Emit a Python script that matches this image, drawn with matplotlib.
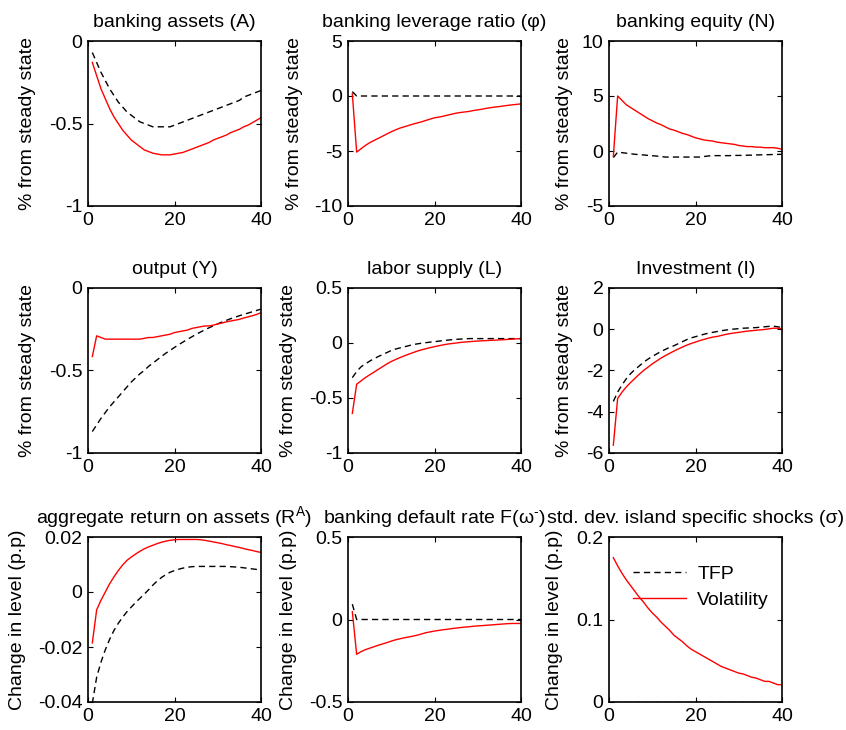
# -*- coding: utf-8 -*-
# impulse responses: TFP shock vs volatility shock, 3x3 panels
import matplotlib
matplotlib.use('Agg')
import matplotlib.pyplot as plt
from matplotlib.ticker import FuncFormatter

plt.rcParams['font.family'] = ['Liberation Sans', 'DejaVu Sans']
plt.rcParams['mathtext.fontset'] = 'custom'
plt.rcParams['mathtext.rm'] = 'Liberation Sans'
plt.rcParams['mathtext.it'] = 'Liberation Sans:italic'
plt.rcParams['axes.unicode_minus'] = False

#%% data, horizon 1..40
t = [1, 2, 3, 4, 5, 6, 7, 8, 9, 10, 11, 12, 13, 14, 15, 16, 17, 18, 19, 20,
     21, 22, 23, 24, 25, 26, 27, 28, 29, 30, 31, 32, 33, 34, 35, 36, 37, 38, 39, 40]

A_tfp = [-0.07, -0.13, -0.19, -0.24, -0.29, -0.33, -0.37, -0.40, -0.43, -0.45,
         -0.47, -0.49, -0.50, -0.51, -0.52, -0.52, -0.52, -0.52, -0.52, -0.51,
         -0.50, -0.49, -0.48, -0.47, -0.46, -0.45, -0.44, -0.43, -0.42, -0.41,
         -0.40, -0.39, -0.38, -0.37, -0.36, -0.34, -0.33, -0.32, -0.31, -0.30]
A_vol = [-0.13, -0.21, -0.29, -0.35, -0.41, -0.46, -0.50, -0.54, -0.57, -0.60,
         -0.62, -0.64, -0.66, -0.67, -0.68, -0.685, -0.69, -0.69, -0.69, -0.685,
         -0.68, -0.675, -0.665, -0.655, -0.645, -0.635, -0.625, -0.615, -0.60, -0.59,
         -0.58, -0.57, -0.555, -0.545, -0.535, -0.52, -0.51, -0.495, -0.48, -0.465]

phi_tfp = [0.4, 0.0, 0.0, 0.0, 0.0, 0.0, 0.0, 0.0, 0.0, 0.0,
           0.0, 0.0, 0.0, 0.0, 0.0, 0.0, 0.0, 0.0, 0.0, 0.0,
           0.0, 0.0, 0.0, 0.0, 0.0, 0.0, 0.0, 0.0, 0.0, 0.0,
           0.0, 0.0, 0.0, 0.0, 0.0, 0.0, 0.0, 0.0, 0.0, 0.0]
phi_vol = [0.2, -5.1, -4.8, -4.5, -4.25, -4.05, -3.85, -3.65, -3.45, -3.25,
           -3.08, -2.92, -2.8, -2.68, -2.56, -2.45, -2.35, -2.22, -2.1, -1.98,
           -1.92, -1.84, -1.74, -1.65, -1.56, -1.5, -1.45, -1.4, -1.32, -1.26,
           -1.2, -1.12, -1.06, -1.0, -0.96, -0.9, -0.85, -0.8, -0.76, -0.72]

N_tfp = [-0.6, -0.1, -0.15, -0.2, -0.25, -0.3, -0.33, -0.36, -0.4, -0.43,
         -0.46, -0.5, -0.55, -0.55, -0.55, -0.55, -0.55, -0.55, -0.55, -0.55,
         -0.55, -0.5, -0.45, -0.42, -0.42, -0.42, -0.42, -0.42, -0.4, -0.4,
         -0.4, -0.38, -0.38, -0.36, -0.35, -0.34, -0.33, -0.32, -0.31, -0.3]
N_vol = [-0.5, 5.0, 4.6, 4.2, 3.95, 3.7, 3.45, 3.2, 2.95, 2.75,
         2.55, 2.4, 2.2, 2.0, 1.9, 1.75, 1.6, 1.5, 1.35, 1.2,
         1.1, 1.0, 0.95, 0.9, 0.8, 0.75, 0.7, 0.65, 0.6, 0.5,
         0.45, 0.4, 0.4, 0.35, 0.35, 0.3, 0.3, 0.3, 0.25, 0.15]

Y_tfp = [-0.87, -0.83, -0.79, -0.755, -0.72, -0.69, -0.66, -0.63, -0.60, -0.57,
         -0.545, -0.52, -0.50, -0.475, -0.455, -0.435, -0.415, -0.395, -0.378, -0.36,
         -0.343, -0.327, -0.311, -0.296, -0.281, -0.267, -0.254, -0.241, -0.229, -0.217,
         -0.206, -0.196, -0.186, -0.177, -0.168, -0.16, -0.152, -0.144, -0.136, -0.128]
Y_vol = [-0.415, -0.29, -0.3, -0.31, -0.31, -0.31, -0.31, -0.31, -0.31, -0.31,
         -0.31, -0.31, -0.305, -0.3, -0.3, -0.295, -0.29, -0.285, -0.28, -0.27,
         -0.265, -0.26, -0.255, -0.245, -0.24, -0.235, -0.23, -0.23, -0.225, -0.218,
         -0.212, -0.205, -0.2, -0.195, -0.19, -0.182, -0.175, -0.168, -0.16, -0.15]

L_tfp = [-0.315, -0.26, -0.217, -0.19, -0.165, -0.143, -0.123, -0.105, -0.087, -0.068,
         -0.055, -0.045, -0.035, -0.025, -0.015, -0.008, -0.002, 0.003, 0.008, 0.012,
         0.017, 0.022, 0.026, 0.03, 0.033, 0.036, 0.038, 0.04, 0.04, 0.04,
         0.04, 0.04, 0.04, 0.04, 0.04, 0.04, 0.04, 0.04, 0.04, 0.04]
L_vol = [-0.64, -0.375, -0.345, -0.315, -0.29, -0.265, -0.24, -0.215, -0.19, -0.168,
         -0.15, -0.133, -0.117, -0.102, -0.088, -0.074, -0.062, -0.052, -0.042, -0.033,
         -0.025, -0.017, -0.01, -0.005, 0.0, 0.005, 0.009, 0.012, 0.015, 0.018,
         0.02, 0.022, 0.024, 0.026, 0.028, 0.03, 0.033, 0.035, 0.038, 0.04]

I_tfp = [-3.5, -3.05, -2.7, -2.4, -2.15, -1.95, -1.78, -1.6, -1.45, -1.32,
         -1.2, -1.08, -0.98, -0.88, -0.8, -0.7, -0.6, -0.5, -0.42, -0.36,
         -0.3, -0.24, -0.19, -0.15, -0.11, -0.07, -0.04, -0.01, 0.01, 0.03,
         0.05, 0.06, 0.07, 0.08, 0.1, 0.12, 0.14, 0.15, 0.12, 0.08]
I_vol = [-5.62, -3.36, -3.05, -2.8, -2.58, -2.38, -2.18, -2.0, -1.84, -1.68,
         -1.54, -1.4, -1.28, -1.17, -1.06, -0.96, -0.86, -0.77, -0.69, -0.62,
         -0.55, -0.49, -0.43, -0.38, -0.35, -0.3, -0.25, -0.21, -0.18, -0.15,
         -0.12, -0.09, -0.07, -0.05, -0.03, -0.01, 0.02, 0.05, 0.05, 0.03]

RA_tfp = [-0.0405, -0.031, -0.0255, -0.021, -0.0172, -0.014, -0.0114, -0.0092, -0.0072, -0.0055,
          -0.0038, -0.0023, -0.0008, 0.0008, 0.0025, 0.004, 0.0053, 0.0063, 0.0072, 0.0078,
          0.0083, 0.0087, 0.009, 0.0092, 0.0093, 0.0093, 0.0093, 0.0093, 0.0093, 0.0093,
          0.0093, 0.0093, 0.0092, 0.0091, 0.009, 0.0088, 0.0086, 0.0084, 0.0082, 0.0081]
RA_vol = [-0.0185, -0.0065, -0.003, 0.0, 0.003, 0.0055, 0.0078, 0.0098, 0.0115, 0.0127,
          0.0138, 0.0148, 0.0157, 0.0164, 0.017, 0.0176, 0.0181, 0.0185, 0.0188, 0.019,
          0.0191, 0.0191, 0.0191, 0.0191, 0.0191, 0.019, 0.0188, 0.0185, 0.0182, 0.0179,
          0.0176, 0.0172, 0.0169, 0.0165, 0.0162, 0.0158, 0.0154, 0.0151, 0.0147, 0.0144]

F_tfp = [0.093, 0.0, 0.0, 0.0, 0.0, 0.0, 0.0, 0.0, 0.0, 0.0,
         0.0, 0.0, 0.0, 0.0, 0.0, 0.0, 0.0, 0.0, 0.0, 0.0,
         0.0, 0.0, 0.0, 0.0, 0.0, 0.0, 0.0, 0.0, 0.0, 0.0,
         0.0, 0.0, 0.0, 0.0, 0.0, 0.0, 0.0, 0.0, 0.0, 0.0]
F_vol = [0.047, -0.211, -0.195, -0.183, -0.174, -0.165, -0.156, -0.148, -0.14, -0.131,
         -0.123, -0.117, -0.111, -0.106, -0.101, -0.095, -0.088, -0.08, -0.075, -0.07,
         -0.066, -0.062, -0.059, -0.055, -0.052, -0.049, -0.046, -0.044, -0.041, -0.039,
         -0.037, -0.035, -0.033, -0.031, -0.029, -0.027, -0.025, -0.024, -0.024, -0.024]

sig_tfp = [0.0, 0.0, 0.0, 0.0, 0.0, 0.0, 0.0, 0.0, 0.0, 0.0,
           0.0, 0.0, 0.0, 0.0, 0.0, 0.0, 0.0, 0.0, 0.0, 0.0,
           0.0, 0.0, 0.0, 0.0, 0.0, 0.0, 0.0, 0.0, 0.0, 0.0,
           0.0, 0.0, 0.0, 0.0, 0.0, 0.0, 0.0, 0.0, 0.0, 0.0]
sig_vol = [0.175, 0.165, 0.156, 0.148, 0.141, 0.134, 0.127, 0.121, 0.114, 0.108,
           0.103, 0.097, 0.092, 0.087, 0.081, 0.077, 0.073, 0.068, 0.064, 0.061,
           0.058, 0.055, 0.052, 0.049, 0.046, 0.043, 0.041, 0.039, 0.037, 0.035,
           0.034, 0.032, 0.030, 0.029, 0.027, 0.025, 0.025, 0.023, 0.021, 0.021]

titles = ['banking assets (A)', 'banking leverage ratio (φ)', 'banking equity (N)',
          'output (Y)', 'labor supply (L)', 'Investment (I)',
          'aggregate return on assets (R$^{\\mathrm{A}}$)', 'banking default rate F(ω$^{\\text{-}}$)',
          'std. dev. island specific shocks (σ)']
series_tfp = [A_tfp, phi_tfp, N_tfp, Y_tfp, L_tfp, I_tfp, RA_tfp, F_tfp, sig_tfp]
series_vol = [A_vol, phi_vol, N_vol, Y_vol, L_vol, I_vol, RA_vol, F_vol, sig_vol]
yticks = [[-1, -0.5, 0], [-10, -5, 0, 5], [-5, 0, 5, 10],
          [-1, -0.5, 0], [-1, -0.5, 0, 0.5], [-6, -4, -2, 0, 2],
          [-0.04, -0.02, 0, 0.02], [-0.5, 0, 0.5], [0, 0.1, 0.2]]
ylab_pct = '% from steady state'
ylab_lvl = 'Change in level (p.p)'

#%% layout (pixel boxes measured on the target, 846x730)
W, H = 846., 730.
col_x = [88, 348, 609]
row_top = [41, 288, 537]
aw, ah = 173, 165
# x of the ylabel (right edge) relative to axes
ylab_x = [[-0.30, -0.26, -0.208], [-0.30, -0.295, -0.208], [-0.358, -0.295, -0.266]]

fs = 14
fig = plt.figure(figsize=(W / 100, H / 100), dpi=100)

for k in range(9):
    r, c = k // 3, k % 3
    ax = fig.add_axes([col_x[c] / W, 1 - (row_top[r] + ah) / H, aw / W, ah / H])
    ax.plot(t, series_tfp[k], '--', color='k', lw=1.0, dashes=(4.5, 3), label='TFP')
    ax.plot(t, series_vol[k], '-', color='#ff0000', lw=1.0, label='Volatility')
    ax.set_xlim(0, 40)
    ax.set_xticks([0, 20, 40])
    ax.set_ylim(yticks[k][0], yticks[k][-1])
    ax.set_yticks(yticks[k])
    ax.yaxis.set_major_formatter(FuncFormatter(lambda v, p: '%g' % v))
    ax.tick_params(direction='in', top=True, right=True, length=3.5, width=0.8,
                   labelsize=fs, pad=4)
    for s in ax.spines.values():
        s.set_linewidth(1.2)
    ax.set_title(titles[k], fontsize=fs, pad=10)
    ax.set_ylabel(ylab_pct if r < 2 else ylab_lvl, fontsize=fs)
    ax.yaxis.set_label_coords(ylab_x[r][c], 0.5)
    if k == 8:
        ax.legend(loc='upper left', bbox_to_anchor=(0.139, 0.83), frameon=False,
                  fontsize=fs, handlelength=2.7, handletextpad=0.6,
                  labelspacing=0.45, borderpad=0, borderaxespad=0)

plt.savefig('out.png', dpi=100)
